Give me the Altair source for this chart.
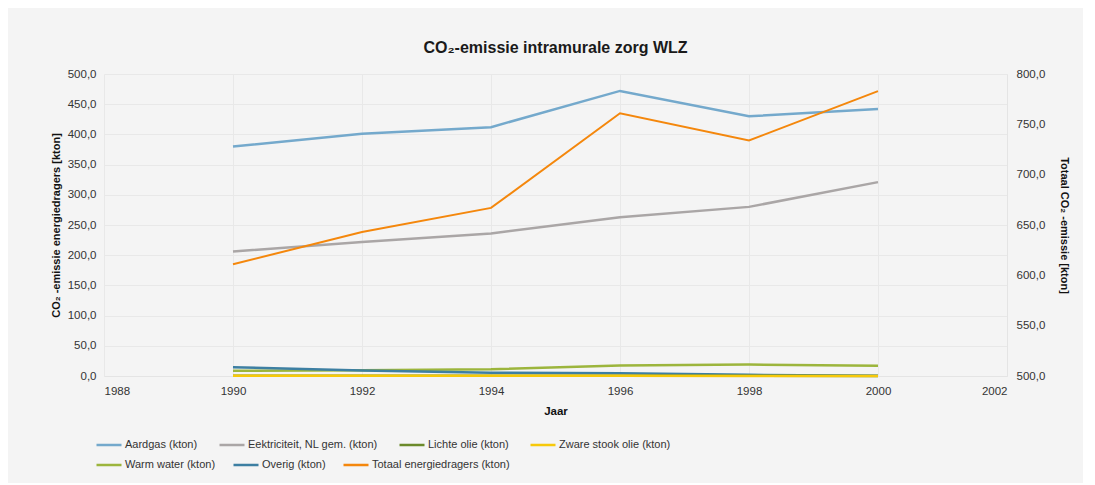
import altair as alt
import pandas as pd

years = [1990, 1992, 1994, 1996, 1998, 2000]
aardgas = [380, 401, 412, 472, 430, 442]
elektriciteit = [206, 222, 236, 263, 280, 321]
lichte_olie = [0.5, 0.5, 0.5, 0.5, 0.3, 0.2]
zware_stook_olie = [0.3, 0.3, 0.3, 0.3, 0.2, 0.2]
warm_water = [8.5, 9.5, 11, 17.5, 19, 17]
overig = [14.5, 9, 5.5, 4.5, 2, 0.5]
totaal = [611, 643, 667, 761, 734, 783]

row1 = ["Aardgas (kton)", "Eektriciteit, NL gem. (kton)", "Lichte olie (kton)", "Zware stook olie (kton)"]
row1_colors = ["#74a9cc", "#aaa6a6", "#6b8a2a", "#f7c90a"]
row2 = ["Warm water (kton)", "Overig (kton)", "Totaal energiedragers (kton)"]
row2_colors = ["#9cb53c", "#3d7fa2", "#f4870c"]

rows = []
for name, vals in zip(row1, [aardgas, elektriciteit, lichte_olie, zware_stook_olie]):
    for y, v in zip(years, vals):
        rows.append({"Jaar": y, "waarde": v, "serie": name, "groep": "a"})
for name, vals in zip(row2[:2], [warm_water, overig]):
    for y, v in zip(years, vals):
        rows.append({"Jaar": y, "waarde": v, "serie": name, "groep": "b"})
for y, v in zip(years, totaal):
    rows.append({"Jaar": y, "waarde": v, "serie": row2[2], "groep": "c"})
df = pd.DataFrame(rows)

FONT = "Liberation Sans"
nl_fmt = "replace(format(datum.value, '.1f'), '.', ',')"

x_enc = alt.X("Jaar:Q", scale=alt.Scale(domain=[1988, 2002], nice=False, zero=False),
              axis=alt.Axis(values=[1988, 1990, 1992, 1994, 1996, 1998, 2000, 2002], format="d",
                            title="Jaar", titleFontWeight="bold", titleFontSize=11.5,
                            titlePadding=9, labelPadding=9, grid=True, ticks=False,
                            domain=True, domainColor="#e4e4e4"))

y_left = alt.Y("waarde:Q", scale=alt.Scale(domain=[0, 500], nice=False),
               axis=alt.Axis(values=list(range(0, 501, 50)), labelExpr=nl_fmt,
                             title="CO₂ -emissie energiedragers [kton]", titleFontWeight="bold",
                             titleFontSize=11, titlePadding=6, labelPadding=8, ticks=False,
                             domain=False, grid=True))

y_right = alt.Y("waarde:Q", scale=alt.Scale(domain=[500, 800], nice=False, zero=False),
                axis=alt.Axis(orient="right", values=list(range(500, 801, 50)), labelExpr=nl_fmt,
                              title="Totaal CO₂ -emissie [kton]", titleFontWeight="bold",
                              titleFontSize=11, titlePadding=14, labelPadding=9, ticks=False,
                              domain=True, domainColor="#e4e4e4", grid=False))

legend_common = dict(orient="none", direction="horizontal", symbolType="stroke",
                     symbolSize=625, symbolStrokeWidth=2.5, labelFontSize=11,
                     labelColor="#333333", labelFont=FONT, labelOffset=2,
                     title=None, legendX=-9)

layer_a = alt.Chart(df).transform_filter(alt.datum.groep == "a").mark_line(strokeWidth=2.5).encode(
    x=x_enc, y=y_left,
    color=alt.Color("serie:N", scale=alt.Scale(domain=row1, range=row1_colors),
                    sort=row1, legend=alt.Legend(legendY=357, columnPadding=16, **legend_common)),
    order=alt.Order("Jaar:Q"))

layer_b = alt.Chart(df).transform_filter(alt.datum.groep == "b").mark_line(strokeWidth=2.5).encode(
    x=x_enc, y=y_left,
    stroke=alt.Stroke("serie:N", scale=alt.Scale(domain=row2, range=row2_colors),
                      sort=row2, legend=alt.Legend(legendY=377, columnPadding=12, **legend_common)),
    order=alt.Order("Jaar:Q"))

layer_c = alt.Chart(df).transform_filter(alt.datum.groep == "c").mark_line(strokeWidth=2).encode(
    x=x_enc, y=y_right,
    stroke=alt.Stroke("serie:N", scale=alt.Scale(domain=row2, range=row2_colors),
                      sort=row2, legend=alt.Legend(legendY=377, columnPadding=12, **legend_common)),
    order=alt.Order("Jaar:Q"))

left = alt.layer(layer_b, layer_a)

chart = alt.layer(left, layer_c).resolve_scale(y="independent").properties(
    width=903, height=302,
    autosize=alt.AutoSizeParams(type="none"),
    padding={"left": 96, "top": 66, "right": 76, "bottom": 107},
    background="#f4f4f4",
    title=alt.TitleParams(text="CO₂-emissie intramurale zorg WLZ", fontSize=16,
                          fontWeight="bold", font=FONT, color="#1a1a1a", offset=12, anchor="middle"),
).configure_view(stroke=None).configure_axis(
    labelFont=FONT, titleFont=FONT, labelFontSize=11.5, labelColor="#333333",
    titleColor="#111111", gridColor="#e8e8e8", gridWidth=1
)

chart.save("out.html", embed_options={"renderer": "svg", "actions": False})
